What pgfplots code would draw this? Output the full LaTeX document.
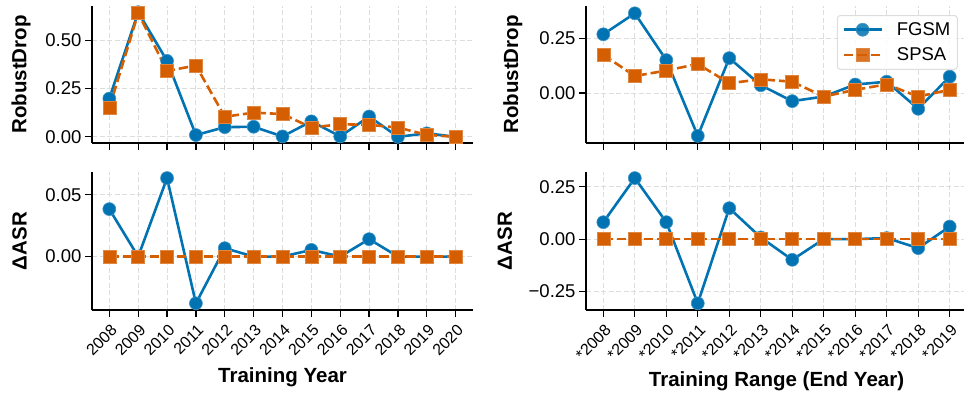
\documentclass[border=0pt]{standalone}
\usepackage{pgfplots}
\pgfplotsset{compat=1.18}
\usepackage{fontspec}
\setmainfont{Liberation Sans}
\definecolor{cblue}{HTML}{0173B2}
\definecolor{corange}{HTML}{D55E00}
\definecolor{gridc}{HTML}{DDDDDD}
\pgfplotsset{
  base/.style={
    scale only axis, width=381pt,
    axis x line*=bottom, axis y line*=left,
    axis line style={line width=1.2pt, black},
    every tick/.style={line width=1.2pt, black},
    major tick length=7pt, tick align=outside,
    grid=major, grid style={gridc, line width=0.9pt, dash pattern=on 5pt off 2.5pt},
    clip=false, scaled x ticks=false, scaled y ticks=false,
    yticklabel style={font=\fontsize{18.5}{22}\selectfont},
    xticklabel style={font=\fontsize{16}{19}\selectfont, rotate=45, anchor=north east, inner sep=1pt, xshift=-3pt, yshift=-4pt},
    ylabel style={font=\fontsize{20.5}{24}\selectfont\bfseries, anchor=center, rotate=0},
    xlabel style={font=\fontsize{20.5}{24}\selectfont\bfseries, anchor=base},
  },
  fg/.style={cblue, line width=2.6pt, mark=*, mark size=6.5pt, mark options={solid, fill=cblue, draw=cblue!75!white, line width=0.6pt}},
  sp/.style={corange, line width=2.6pt, dash pattern=on 9.5pt off 4pt, mark=square*, mark size=6.5pt, mark options={solid, fill=corange, draw=corange!75!white, line width=0.6pt}},
}
\pgfplotstableread{
x fg sp
0 0.198 0.150
1 0.645 0.640
2 0.393 0.341
3 0.009 0.369
4 0.050 0.104
5 0.052 0.125
6 0.002 0.118
7 0.080 0.048
8 0.002 0.065
9 0.105 0.062
10 0.000 0.048
11 0.018 0.010
12 0.000 0.000
}\tl
\pgfplotstableread{
x fg sp
0 0.0384 0
1 0 0
2 0.0635 0
3 -0.0378 0
4 0.0068 0
5 0 0
6 0 0
7 0.0054 0
8 0 0
9 0.0141 0
10 0 0
11 0 0
12 0 0
}\bl
\pgfplotstableread{
x fg sp
0 0.269 0.175
1 0.365 0.078
2 0.151 0.103
3 -0.196 0.133
4 0.160 0.045
5 0.036 0.063
6 -0.037 0.052
7 -0.016 -0.016
8 0.039 0.015
9 0.052 0.040
10 -0.072 -0.016
11 0.075 0.015
}\tr
\pgfplotstableread{
x fg sp
0 0.081 0
1 0.292 0
2 0.081 0
3 -0.307 0
4 0.148 0
5 0.008 0
6 -0.099 0
7 0 0
8 0 0
9 0.005 0
10 -0.043 0
11 0.060 0
}\br
\begin{document}
\begin{tikzpicture}
\useasboundingbox (0,0) rectangle (964pt,399pt);
% top left
\begin{axis}[base, at={(92pt,256pt)}, anchor=south west, height=137pt,
  xmin=-0.6, xmax=12.6, ymin=-0.032, ymax=0.677,
  xtick={0,...,12}, xticklabels=\empty,
  ytick={0,0.25,0.5}, yticklabels={0.00,0.25,0.50},
  ylabel={RobustDrop}, ylabel style={at={(axis description cs:-0.186,0.5)}}]
\addplot[fg] table[x=x,y=fg]{\tl};
\addplot[sp] table[x=x,y=sp]{\tl};
\end{axis}
% bottom left
\begin{axis}[base, at={(92pt,89pt)}, anchor=south west, height=138pt,
  xmin=-0.6, xmax=12.6, ymin=-0.0432, ymax=0.0684,
  xtick={0,...,12}, xticklabels={2008,2009,2010,2011,2012,2013,2014,2015,2016,2017,2018,2019,2020},
  ytick={0,0.05}, yticklabels={0.00,0.05},
  ylabel={ΔASR}, ylabel style={at={(axis description cs:-0.19,0.5)}},
  xlabel={Training Year}, xlabel style={at={(axis description cs:0.5,-0.527)}}]
\addplot[fg] table[x=x,y=fg]{\bl};
\addplot[sp] table[x=x,y=sp]{\bl};
\end{axis}
% top right
\begin{axis}[base, at={(586pt,256pt)}, anchor=south west, height=137pt,
  xmin=-0.55, xmax=11.55, ymin=-0.2285, ymax=0.3985,
  xtick={0,...,11}, xticklabels=\empty,
  ytick={0,0.25}, yticklabels={0.00,0.25},
  ylabel={RobustDrop}, ylabel style={at={(axis description cs:-0.192,0.5)}},
  legend style={at={(axis description cs:0.976,0.934)}, anchor=north east,
    draw=gridc, line width=1pt, rounded corners=3pt, fill=white, fill opacity=0.85, text opacity=1,
    font=\fontsize{18.5}{22}\selectfont, row sep=7pt, inner sep=5pt,
    /tikz/every odd column/.append style={column sep=12pt}},
  legend cell align=left,
  legend image code/.code={\draw[mark repeat=2, mark phase=2] plot coordinates {(0pt,0pt) (19pt,0pt) (38pt,0pt)};}]
\addplot[fg] table[x=x,y=fg]{\tr};
\addlegendentry{FGSM}
\addplot[sp] table[x=x,y=sp]{\tr};
\addlegendentry{SPSA}
\end{axis}
% bottom right
\begin{axis}[base, at={(586pt,89pt)}, anchor=south west, height=138pt,
  xmin=-0.55, xmax=11.55, ymin=-0.339, ymax=0.321,
  xtick={0,...,11}, xticklabels={*2008,*2009,*2010,*2011,*2012,*2013,*2014,*2015,*2016,*2017,*2018,*2019},
  ytick={-0.25,0,0.25}, yticklabels={−0.25,0.00,0.25},
  ylabel={ΔASR}, ylabel style={at={(axis description cs:-0.213,0.5)}},
  xlabel={Training Range (End Year)}, xlabel style={at={(axis description cs:0.5,-0.556)}}]
\addplot[fg] table[x=x,y=fg]{\br};
\addplot[sp] table[x=x,y=sp]{\br};
\end{axis}
\end{tikzpicture}
\end{document}
